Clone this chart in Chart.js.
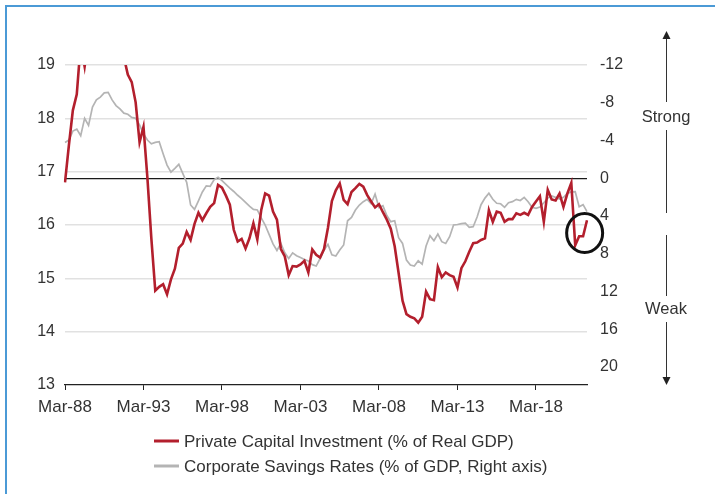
<!DOCTYPE html>
<html>
<head>
<meta charset="utf-8">
<script src="https://cdn.jsdelivr.net/npm/chart.js@4"></script>
<style>
  html, body { margin: 0; padding: 0; background: #fff; }
  #wrap { position: relative; width: 715px; height: 494px; overflow: hidden; }
  #frame { position: absolute; left: 5px; top: 5px; width: 730px; height: 510px;
           border-left: 2px solid #4b9ad6; border-top: 2px solid #4b9ad6; }
  canvas { position: absolute; left: 0; top: 0; }
</style>
</head>
<body>
<div id="wrap">
  <div id="frame"></div>
  <canvas id="myChart" width="715" height="494"></canvas>
</div>
<script>
// quarterly categories, Mar-88 .. Jun-21
const months = ['Mar', 'Jun', 'Sep', 'Dec']
const quarters = []
for (let y = 1988; y <= 2021; y++) {
  for (const m of months) quarters.push(m + '-' + String(y % 100).padStart(2, '0'))
}
const labels = quarters.slice(0, 134)

const xTickLabels = ['Mar-88', 'Mar-93', 'Mar-98', 'Mar-03', 'Mar-08', 'Mar-13', 'Mar-18']
const leftTicks = [13, 14, 15, 16, 17, 18, 19]
const rightTicks = [-12, -8, -4, 0, 4, 8, 12, 16, 20]

// Private Capital Investment (% of Real GDP), left axis
const investment = [
  16.8, 17.5, 18.15, 18.45, 19.4, 18.97, 19.5, 19.8, 20.0, 20.1,
  20.0, 19.9, 19.8, 19.6, 19.4, 19.15, 18.82, 18.68, 18.3, 17.55,
  17.84, 16.88, 15.75, 14.77, 14.84, 14.89, 14.7, 14.98, 15.18, 15.57,
  15.65, 15.87, 15.72, 16.02, 16.23, 16.09, 16.22, 16.34, 16.41, 16.75,
  16.7, 16.55, 16.38, 15.91, 15.69, 15.74, 15.56, 15.75, 16.03, 15.73,
  16.28, 16.59, 16.55, 16.25, 16.1, 15.55, 15.41, 15.06, 15.23, 15.22,
  15.26, 15.33, 15.11, 15.54, 15.44, 15.39, 15.55, 15.95, 16.45, 16.65,
  16.78, 16.47, 16.39, 16.62, 16.69, 16.77, 16.72, 16.56, 16.44, 16.33,
  16.39, 16.24, 16.1, 15.93, 15.6, 15.1, 14.58, 14.33, 14.28, 14.25,
  14.17, 14.28, 14.75, 14.61, 14.59, 15.21, 15.02, 15.11, 15.06, 15.03,
  14.83, 15.19, 15.32, 15.5, 15.66, 15.67, 15.72, 15.75, 16.28, 16.06,
  16.25, 16.23, 16.06, 16.11, 16.11, 16.22, 16.19, 16.23, 16.19, 16.34,
  16.44, 16.54, 16.06, 16.66, 16.48, 16.46, 16.59, 16.34, 16.59, 16.79,
  15.62, 15.79, 15.79, 16.09
]

// Corporate Savings Rates (% of GDP), right axis (inverted)
const savings = [
  -3.8, -4.05, -5.0, -5.2, -4.5, -6.35, -5.6, -7.55, -8.3, -8.6,
  -9.05, -9.1, -8.3, -7.7, -7.35, -6.9, -6.78, -6.45, -6.35, -5.65,
  -4.7, -4.05, -3.65, -3.8, -3.88, -2.6, -1.4, -0.65, -1.05, -1.48,
  -0.52, 0.43, 2.83, 3.3, 2.4, 1.45, 0.8, 0.85, 0.15, -0.1,
  0.26, 0.65, 1.05, 1.4, 1.8, 2.15, 2.55, 2.95, 3.3, 3.36,
  4.2, 4.95, 5.95, 6.95, 7.65, 6.9, 7.9, 8.5, 7.9, 8.2,
  8.4, 8.6, 8.75, 9.15, 9.3, 8.5, 7.6, 7.0, 8.1, 8.24,
  7.6, 7.07, 4.5, 4.14, 3.36, 2.83, 2.48, 2.23, 2.7, 1.67,
  3.1, 2.9, 3.95, 4.6, 4.5, 6.3, 6.9, 8.66, 9.19, 9.3,
  8.74, 9.09, 7.18, 6.09, 6.61, 5.91, 6.72, 6.9, 6.19, 4.95,
  4.9, 4.8, 4.75, 5.2, 5.13, 4.1, 2.8, 2.1, 1.59, 2.23,
  2.65, 2.7, 3.08, 2.59, 2.48, 2.23, 2.35, 2.02, 2.48, 3.08,
  3.18, 3.05, 2.59, 2.1, 1.88, 2.02, 2.2, 2.02, 1.6, 1.45,
  1.42, 3.01, 2.8, 3.54
]

const red = '#b31f2d'
const grey = '#b4b4b4'
const textColor = '#333'
const family = '"Liberation Sans", Arial, sans-serif'
const font = { family: family, size: 16 }
const xFont = { family: family, size: 17 }

const extras = {
  id: 'extras',
  afterDraw(chart) {
    const ctx = chart.ctx
    const area = chart.chartArea
    const x = chart.scales.x
    const y = chart.scales.y
    ctx.save()

    // circle around the latest dip
    ctx.strokeStyle = '#111'
    ctx.lineWidth = 3
    ctx.beginPath()
    ctx.ellipse(x.getPixelForValue(132.4), y.getPixelForValue(15.85), 18, 19.5, 0, 0, Math.PI * 2)
    ctx.stroke()

    // strong / weak arrows
    const ax = area.right + 79
    ctx.strokeStyle = '#333'
    ctx.fillStyle = '#222'
    ctx.lineWidth = 1
    const seg = (a, b) => { ctx.beginPath(); ctx.moveTo(ax + 0.5, a); ctx.lineTo(ax + 0.5, b); ctx.stroke() }
    seg(area.top - 27, area.top + 37)
    seg(area.top + 65, area.top + 148)
    seg(area.top + 170, area.top + 231)
    seg(area.top + 257, area.bottom - 6)
    ctx.beginPath()
    ctx.moveTo(ax + 0.5, area.top - 34); ctx.lineTo(ax - 3.5, area.top - 26); ctx.lineTo(ax + 4.5, area.top - 26)
    ctx.closePath(); ctx.fill()
    ctx.beginPath()
    ctx.moveTo(ax + 0.5, area.bottom); ctx.lineTo(ax - 3.5, area.bottom - 8); ctx.lineTo(ax + 4.5, area.bottom - 8)
    ctx.closePath(); ctx.fill()

    ctx.font = '16.5px ' + family
    ctx.fillStyle = textColor
    ctx.textAlign = 'center'
    ctx.textBaseline = 'middle'
    ctx.fillText('Strong', ax, area.top + 52)
    ctx.fillText('Weak', ax, area.top + 244)

    // legend
    ctx.font = '17px ' + family
    ctx.textAlign = 'left'
    chart.data.datasets.forEach((ds, i) => {
      const ly = area.bottom + 56 + i * 25
      ctx.strokeStyle = ds.borderColor
      ctx.lineWidth = 3
      ctx.beginPath(); ctx.moveTo(154, ly); ctx.lineTo(179, ly); ctx.stroke()
      ctx.fillStyle = textColor
      ctx.fillText(ds.label, 184, ly + 1)
    })
    ctx.restore()
  }
}

const ctx = document.getElementById('myChart').getContext('2d')
const chart = new Chart(ctx, {
  type: 'line',
  data: {
    labels: labels,
    datasets: [
      {
        label: 'Private Capital Investment (% of Real GDP)',
        data: investment,
        yAxisID: 'y',
        borderColor: red,
        borderWidth: 2.6,
        pointRadius: 0,
        tension: 0,
      },
      {
        label: 'Corporate Savings Rates (% of GDP, Right axis)',
        data: savings,
        yAxisID: 'y2',
        borderColor: grey,
        borderWidth: 1.7,
        pointRadius: 0,
        tension: 0,
      },
    ],
  },
  options: {
    responsive: false,
    animation: false,
    layout: { padding: { top: 65, bottom: 79, left: 0, right: 0 } },
    plugins: { legend: { display: false }, tooltip: { enabled: false } },
    scales: {
      x: {
        offset: false,
        afterBuildTicks: (s) => { s.ticks = s.ticks.filter(t => xTickLabels.includes(labels[t.value])) },
        afterFit: (s) => { s.height = 30 },
        ticks: { autoSkip: false, maxRotation: 0, color: textColor, font: xFont, padding: 7 },
        grid: { drawOnChartArea: false, drawTicks: true, tickLength: 5, color: '#222', lineWidth: 1 },
        border: { display: true, color: '#222', width: 1.2 },
      },
      y: {
        position: 'left',
        min: 13,
        max: 19,
        afterBuildTicks: (s) => { s.ticks = leftTicks.map(v => ({ value: v })) },
        afterFit: (s) => { s.width = 65 },
        ticks: { color: textColor, font: font, padding: 10 },
        grid: {
          drawTicks: false,
          lineWidth: 1.5,
          color: (c) => (c.tick && c.tick.value === 13 ? 'rgba(0,0,0,0)' : '#e1e1e1'),
        },
        border: { display: false },
      },
      y2: {
        position: 'right',
        reverse: true,
        min: -12,
        max: 21.9,
        afterBuildTicks: (s) => { s.ticks = rightTicks.map(v => ({ value: v })) },
        afterFit: (s) => { s.width = 128 },
        ticks: { color: textColor, font: font, padding: 13 },
        grid: {
          drawTicks: false,
          lineWidth: 1.3,
          color: (c) => (c.tick && c.tick.value === 0 ? '#1a1a1a' : 'rgba(0,0,0,0)'),
        },
        border: { display: false },
      },
    },
  },
  plugins: [extras],
})
</script>
</body>
</html>
